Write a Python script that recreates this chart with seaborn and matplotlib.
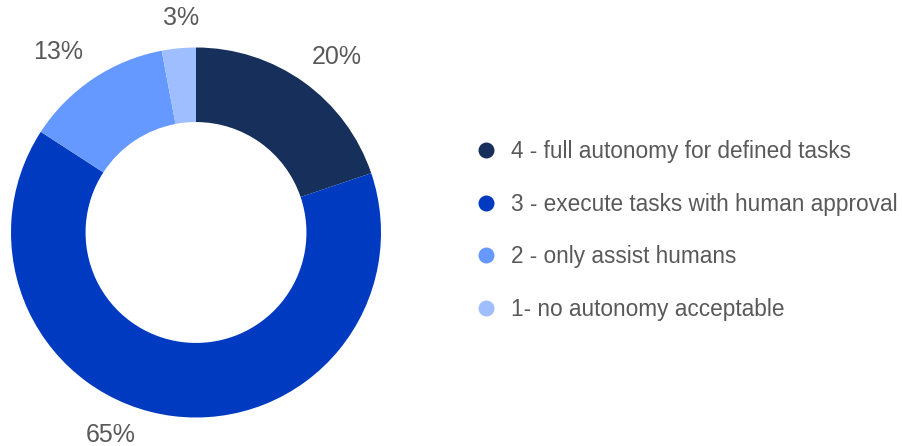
import numpy as np
import matplotlib
matplotlib.use("Agg")
import matplotlib.pyplot as plt
from matplotlib.lines import Line2D
import seaborn as sns

categories = [
    "4 - full autonomy for defined tasks",
    "3 - execute tasks with human approval",
    "2 - only assist humans",
    "1- no autonomy acceptable",
]
shares = [20, 65, 13, 3]
value_labels = ["20%", "65%", "13%", "3%"]
colors = ["#162f5b", "#003ac1", "#6699ff", "#9fbeff"]

sns.set_theme(style="white")
plt.rcParams["font.family"] = ["Liberation Sans", "DejaVu Sans"]

W, H, DPI = 903, 446, 100
fig = plt.figure(figsize=(W / DPI, H / DPI), dpi=DPI)
fig.patch.set_facecolor("white")

# Donut axes: unit radius = R pixels, centred at (cx, cy) from top-left
R, cx, cy = 185.0, 196.0, 232.5
ax_w = 440
ax = fig.add_axes([0, 0, ax_w / W, 1])

wedges, _ = ax.pie(
    shares,
    colors=colors,
    startangle=90,
    counterclock=False,
    radius=1.0,
    wedgeprops=dict(width=0.403, linewidth=0),
)
ax.set_aspect("auto")
ax.set_xlim(-cx / R, (ax_w - cx) / R)
ax.set_ylim(-(H - cy) / R, cy / R)
ax.axis("off")

# Percentage labels outside the ring, around each wedge's middle angle
nudges = [-3.2, -15.6, 3.6, -1.3]   # degrees
label_r = [1.217, 1.187, 1.228, 1.162]
for w, txt, nd, lr in zip(wedges, value_labels, nudges, label_r):
    mid = np.deg2rad((w.theta1 + w.theta2) / 2 + nd)
    ax.text(lr * np.cos(mid), lr * np.sin(mid), txt,
            ha="center", va="center", fontsize=18, color="#595959",
            clip_on=False)

handles = [Line2D([0], [0], marker="o", linestyle="none", markersize=11.5,
                  markerfacecolor=c, markeredgewidth=0) for c in colors]
leg = fig.legend(handles, categories, loc="upper left",
                 bbox_to_anchor=(468 / W, 1 - 131 / H), frameon=False,
                 fontsize=16.3, labelspacing=1.31, handlelength=0.8,
                 handletextpad=0.7, borderaxespad=0)
for t in leg.get_texts():
    t.set_color("#595959")

fig.savefig("out.png", dpi=DPI, facecolor="white")
